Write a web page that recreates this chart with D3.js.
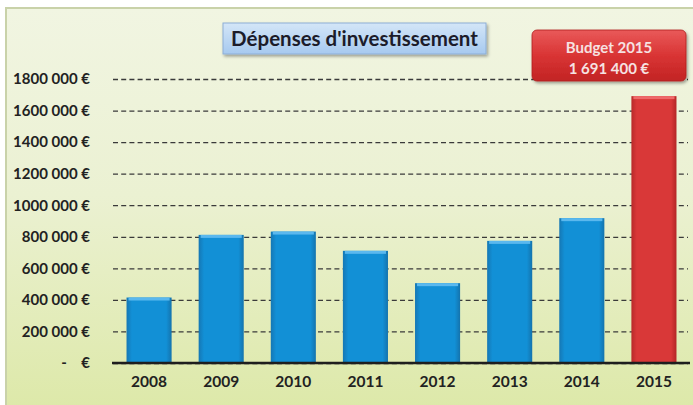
<!DOCTYPE html>
<html>
<head>
<meta charset="utf-8">
<script src="https://cdn.jsdelivr.net/npm/d3@7"></script>
<style>
  body { margin: 0; background: #fff; }
  svg text { font-family: Lato, "Open Sans", sans-serif; font-weight: bold; }
</style>
</head>
<body>
<div id="chart"></div>
<script>
// data
var years = ["2008", "2009", "2010", "2011", "2012", "2013", "2014", "2015"];
var depenses = [415000, 812000, 833000, 711000, 506000, 774000, 918000, 1691400];
var yTicks = [0, 200000, 400000, 600000, 800000, 1000000, 1200000, 1400000, 1600000, 1800000];
var yTickLabels = ["-    €", "200 000 €", "400 000 €", "600 000 €", "800 000 €", "1000 000 €",
                   "1200 000 €", "1400 000 €", "1600 000 €", "1800 000 €"];
var titre = "Dépenses d'investissement";
var budgetLines = ["Budget 2015", "1 691 400 €"];

var W = 693, H = 405;
var svg = d3.select("#chart").append("svg").attr("width", W).attr("height", H);
var defs = svg.append("defs");

// background gradient
var bg = defs.append("linearGradient").attr("id", "bg").attr("x1", 0).attr("y1", 0).attr("x2", 0).attr("y2", 1);
bg.append("stop").attr("offset", "0%").attr("stop-color", "#f1f5e2");
bg.append("stop").attr("offset", "45%").attr("stop-color", "#ebf1d2");
bg.append("stop").attr("offset", "100%").attr("stop-color", "#dce8a6");

var blue = defs.append("linearGradient").attr("id", "blue").attr("x1", 0).attr("y1", 0).attr("x2", 1).attr("y2", 0);
blue.append("stop").attr("offset", "0%").attr("stop-color", "#1577b4");
blue.append("stop").attr("offset", "12%").attr("stop-color", "#1290d6");
blue.append("stop").attr("offset", "88%").attr("stop-color", "#1290d6");
blue.append("stop").attr("offset", "100%").attr("stop-color", "#1473ad");

var red = defs.append("linearGradient").attr("id", "red").attr("x1", 0).attr("y1", 0).attr("x2", 1).attr("y2", 0);
red.append("stop").attr("offset", "0%").attr("stop-color", "#b82a2a");
red.append("stop").attr("offset", "12%").attr("stop-color", "#d93838");
red.append("stop").attr("offset", "88%").attr("stop-color", "#d93838");
red.append("stop").attr("offset", "100%").attr("stop-color", "#b32626");

var titleGrad = defs.append("linearGradient").attr("id", "tgrad").attr("x1", 0).attr("y1", 0).attr("x2", 0).attr("y2", 1);
titleGrad.append("stop").attr("offset", "0%").attr("stop-color", "#d4e6f8");
titleGrad.append("stop").attr("offset", "100%").attr("stop-color", "#a6c9ef");

var budGrad = defs.append("linearGradient").attr("id", "bgrad").attr("x1", 0).attr("y1", 0).attr("x2", 0).attr("y2", 1);
budGrad.append("stop").attr("offset", "0%").attr("stop-color", "#e95a5a");
budGrad.append("stop").attr("offset", "50%").attr("stop-color", "#d93434");
budGrad.append("stop").attr("offset", "100%").attr("stop-color", "#c22424");

var shadow = defs.append("filter").attr("id", "shadow").attr("x", "-10%").attr("y", "-10%").attr("width", "130%").attr("height", "140%");
shadow.append("feDropShadow").attr("dx", 1.5).attr("dy", 2).attr("stdDeviation", 1.5).attr("flood-color", "#000").attr("flood-opacity", 0.35);

// frame
svg.append("rect").attr("x", 6).attr("y", 8).attr("width", W + 10).attr("height", H + 10)
    .attr("fill", "url(#bg)").attr("stroke", "#c9d2a9").attr("stroke-width", 2);

var plotLeft = 113, plotRight = 690, plotTop = 79, base = 363;

var x = d3.scaleBand().domain(years).range([plotLeft, plotRight]).paddingInner(0.375).paddingOuter(0.1875);
var y = d3.scaleLinear().domain([0, 1800000]).range([base, plotTop]);

// y axis with dashed gridlines
var yAxis = svg.append("g").attr("transform", "translate(" + plotLeft + ",0)")
    .call(d3.axisLeft(y).tickValues(yTicks).tickSize(-(plotRight - plotLeft - 2)).tickPadding(23)
        .tickFormat(function(d, i) { return yTickLabels[i]; }));
yAxis.select(".domain").remove();
yAxis.selectAll(".tick line").attr("stroke", "#3a3a3a").attr("stroke-width", 1.3)
    .attr("stroke-dasharray", "5,3.2");
yAxis.selectAll(".tick text").attr("fill", "#222").style("font-size", "15px")
    .style("white-space", "pre");

// bars
svg.append("g").selectAll("rect.bar").data(depenses).enter().append("rect").attr("class", "bar")
    .attr("x", function(d, i) { return x(years[i]); })
    .attr("y", function(d) { return y(d); })
    .attr("width", x.bandwidth())
    .attr("height", function(d) { return base - y(d); })
    .attr("fill", function(d, i) { return years[i] == "2015" ? "url(#red)" : "url(#blue)"; });

// top bevel highlight
svg.append("g").selectAll("rect.hl").data(depenses).enter().append("rect").attr("class", "hl")
    .attr("x", function(d, i) { return x(years[i]) + 2; })
    .attr("y", function(d) { return y(d); })
    .attr("width", x.bandwidth() - 4)
    .attr("height", 3)
    .attr("fill", function(d, i) { return years[i] == "2015" ? "#ee6a6a" : "#5ab8ee"; });

// x axis
var xAxis = svg.append("g").attr("transform", "translate(0," + base + ")")
    .call(d3.axisBottom(x).tickSize(0).tickPadding(13));
xAxis.select(".domain").attr("stroke", "#1e1e1e").attr("stroke-width", 2.5).attr("d", "M" + (plotLeft - 1) + ",0H" + plotRight);
xAxis.selectAll(".tick text").attr("fill", "#222").style("font-size", "15.5px");

// title box
svg.append("rect").attr("x", 223).attr("y", 23).attr("width", 263).attr("height", 31)
    .attr("fill", "url(#tgrad)").attr("stroke", "#8daed6").attr("stroke-width", 1)
    .attr("filter", "url(#shadow)");
svg.append("text").attr("x", 354.5).attr("y", 45.5).attr("text-anchor", "middle")
    .attr("fill", "#1c1c2a").style("font-size", "20.5px").text(titre);

// budget box
svg.append("rect").attr("x", 532).attr("y", 30).attr("width", 154).attr("height", 51)
    .attr("rx", 5).attr("fill", "url(#bgrad)").attr("stroke", "#b02020").attr("stroke-width", 0.8)
    .attr("filter", "url(#shadow)");
svg.append("g").selectAll("text").data(budgetLines).enter().append("text")
    .attr("x", 609).attr("y", function(d, i) { return 53 + i * 21; })
    .attr("text-anchor", "middle").attr("fill", "#f6e2e2").style("font-size", "15px")
    .text(function(d) { return d; });
</script>
</body>
</html>
